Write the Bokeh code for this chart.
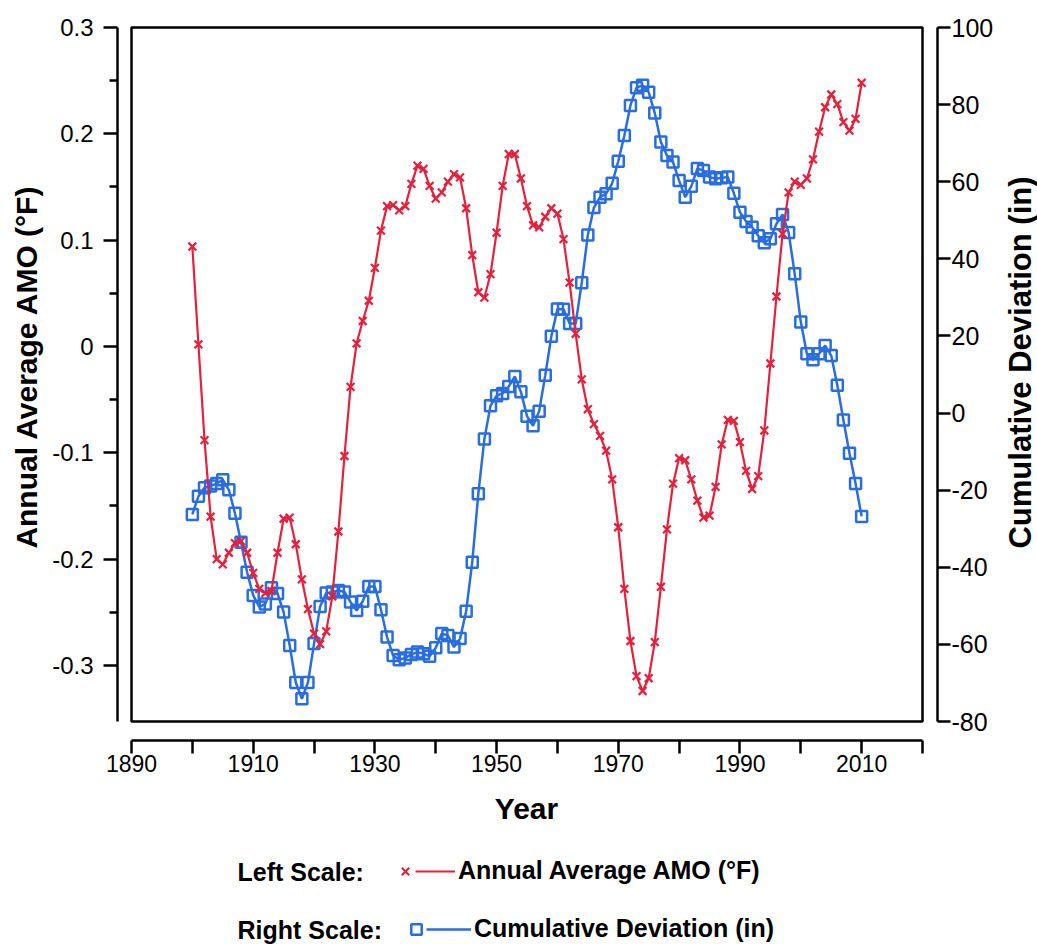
import math
from bokeh.plotting import figure
from bokeh.models import (Range1d, LinearAxis, FixedTicker, BoxAnnotation,
                          Legend, LegendItem, Label)
from bokeh.embed import file_html
from bokeh.resources import INLINE

# ---------------- data ----------------
years = list(range(1900, 2011))

amo = [
    0.094, 0.002, -0.088, -0.160, -0.200, -0.205, -0.194, -0.185, -0.183, -0.194,
    -0.213, -0.228, -0.232, -0.230, -0.194, -0.162, -0.161, -0.186, -0.219, -0.247,
    -0.270, -0.280, -0.268, -0.235, -0.174, -0.103, -0.038, 0.003, 0.024, 0.043,
    0.074, 0.109, 0.132, 0.133, 0.128, 0.132, 0.153, 0.170, 0.167, 0.151,
    0.139, 0.145, 0.155, 0.162, 0.159, 0.130, 0.086, 0.051, 0.046, 0.068,
    0.107, 0.151, 0.181, 0.181, 0.158, 0.132, 0.114, 0.112, 0.122, 0.130,
    0.125, 0.101, 0.060, 0.012, -0.031, -0.059, -0.073, -0.084, -0.098, -0.125,
    -0.170, -0.228, -0.277, -0.310, -0.324, -0.312, -0.278, -0.226, -0.172, -0.129,
    -0.105, -0.107, -0.125, -0.145, -0.161, -0.159, -0.132, -0.092, -0.069, -0.070,
    -0.090, -0.117, -0.134, -0.122, -0.079, -0.016, 0.047, 0.106, 0.145, 0.155,
    0.152, 0.158, 0.176, 0.202, 0.225, 0.237, 0.228, 0.211, 0.203, 0.214,
    0.248,
]

cumdev = [
    -26.3, -21.6, -19.4, -18.9, -18.3, -17.3, -19.9, -26.0, -33.5, -41.3,
    -47.3, -50.3, -49.5, -45.3, -46.8, -51.6, -60.3, -69.9, -74.1, -69.9,
    -59.8, -50.2, -46.7, -46.4, -46.0, -46.4, -49.0, -51.2, -48.8, -45.0,
    -45.0, -51.0, -58.1, -62.9, -64.0, -63.5, -62.6, -62.0, -62.4, -63.1,
    -60.9, -57.2, -57.7, -60.7, -58.5, -51.4, -38.7, -20.9, -6.7, 1.9,
    4.5, 5.1, 6.9, 9.5, 5.5, -0.8, -3.3, 0.5, 9.8, 19.9,
    27.0, 26.9, 23.2, 23.2, 33.8, 46.2, 53.3, 56.0, 56.9, 59.6,
    65.3, 72.0, 79.8, 84.4, 85.0, 83.2, 77.8, 70.3, 66.8, 65.1,
    60.3, 56.0, 58.8, 63.4, 62.9, 61.2, 60.8, 61.0, 61.2, 57.0,
    52.1, 49.7, 48.2, 46.0, 44.2, 45.2, 49.1, 51.5, 46.8, 36.1,
    23.6, 15.4, 13.8, 15.4, 17.5, 14.9, 7.2, -1.8, -10.4, -18.3,
    -26.8,
]

x_ticks = list(range(1890, 2021, 10))
x_tick_labels = ["1890", "", "1910", "", "1930", "", "1950", "", "1970", "",
                 "1990", "", "2010", ""]
left_ticks = [-0.3, -0.2, -0.1, 0.0, 0.1, 0.2, 0.3]
left_tick_labels = ["-0.3", "-0.2", "-0.1", "0", "0.1", "0.2", "0.3"]
left_minor = [-0.25, -0.15, -0.05, 0.05, 0.15, 0.25]
right_ticks = [-80, -60, -40, -20, 0, 20, 40, 60, 80, 100]
right_tick_labels = ["-80", "-60", "-40", "-20", "0", "20", "40", "60", "80", "100"]

x_box = (1890, 2020)
left_box = (-0.3527, 0.3)
right_box = (-80, 100)

RED = "#e5203c"
BLUE = "#2a6de0"
FONT = "Liberation Sans"

# ---------------- geometry (page px) ----------------
W, H = 1037, 944
box_l, box_r, box_t, box_b = 131, 922, 27, 721   # inner plotting box
laxis_x, raxis_x, xaxis_y = 117, 937, 740        # offset axis lines

px_per_x = (box_r - box_l) / (x_box[1] - x_box[0])
py_left = (box_b - box_t) / (left_box[1] - left_box[0])
py_right = (box_b - box_t) / (right_box[1] - right_box[0])

def x_at(px):
    return x_box[0] + (px - box_l) / px_per_x

def yl_at(py):
    return left_box[1] - (py - box_t) / py_left

def yr_at(py):
    return right_box[1] - (py - box_t) / py_right

p = figure(width=W, height=H, output_backend="svg", toolbar_location=None,
           x_range=Range1d(x_at(0), x_at(W)), y_range=Range1d(yl_at(H), yl_at(0)),
           min_border=0)
p.extra_y_ranges = {"right": Range1d(yr_at(H), yr_at(0))}
p.xgrid.visible = False
p.ygrid.visible = False
p.outline_line_color = None
p.background_fill_color = "white"
p.border_fill_color = "white"

def style_axis(ax, tick_size):
    ax.axis_line_width = 2.5
    ax.axis_line_color = "black"
    ax.major_tick_line_width = 2.5
    ax.major_tick_line_color = "black"
    ax.minor_tick_line_width = 2.5
    ax.minor_tick_line_color = "black"
    ax.major_tick_in = 0
    ax.minor_tick_in = 0
    ax.major_label_text_font = FONT
    ax.major_label_text_font_size = tick_size
    ax.major_label_text_color = "black"

# x axis
xa = p.xaxis[0]
xa.ticker = FixedTicker(ticks=x_ticks)
xa.bounds = x_box
xa.fixed_location = yl_at(xaxis_y)
xa.major_label_overrides = dict(zip(x_ticks, x_tick_labels))
style_axis(xa, "23px")
xa.major_tick_out = 13
xa.minor_tick_out = 0
xa.major_label_standoff = 1

# left axis
ya = p.yaxis[0]
ya.ticker = FixedTicker(ticks=left_ticks, minor_ticks=left_minor)
ya.bounds = left_box
ya.fixed_location = x_at(laxis_x)
ya.major_label_overrides = dict(zip(left_ticks, left_tick_labels))
style_axis(ya, "24px")
ya.major_tick_out = 14
ya.minor_tick_out = 8
ya.major_label_standoff = 10

# right axis
ra = LinearAxis(y_range_name="right")
ra.ticker = FixedTicker(ticks=right_ticks)
ra.bounds = right_box
ra.fixed_location = x_at(raxis_x)
ra.major_label_overrides = dict(zip(right_ticks, right_tick_labels))
style_axis(ra, "25px")
ra.major_tick_out = 13
ra.minor_tick_out = 0
ra.major_label_standoff = 1
p.add_layout(ra, "right")

# axis titles
def title(text, cx, cy, angle, size):
    p.add_layout(Label(x=cx, y=H - cy, x_units="screen", y_units="screen", text=text,
                       angle=angle, text_align="center", text_baseline="middle",
                       text_font=FONT, text_font_style="bold", text_font_size=size,
                       text_color="black"))

title("Year", 526, 808, 0, "30px")
title("Annual Average AMO (°F)", 26, 366, math.pi / 2, "30px")
title("Cumulative Deviation (in)", 1020, 362, math.pi / 2, "31px")

# inner box
p.add_layout(BoxAnnotation(left=x_box[0], right=x_box[1], bottom=left_box[0], top=left_box[1],
                           fill_alpha=0, line_color="black", line_alpha=1, line_width=2.5))

# series
b_line = p.line(years, cumdev, y_range_name="right", line_color=BLUE, line_width=2.5)
b_pts = p.scatter(years, cumdev, y_range_name="right", marker="square", size=11,
                  line_color=BLUE, fill_color=None, line_width=2.5)
r_line = p.line(years, amo, line_color=RED, line_width=2.2)
r_pts = p.scatter(years, amo, marker="x", size=11, line_color=RED, line_width=2.2)

# legend rows: marker swatch, then line swatch with its text
def legend_part(renderer, text, loc, gw, gh):
    lg = Legend(items=[LegendItem(label=text, renderers=[renderer])],
                orientation="horizontal", location=loc,
                glyph_width=gw, glyph_height=gh, label_standoff=3,
                label_width=0, label_height=0, padding=0, margin=0, spacing=0,
                background_fill_alpha=0, border_line_color=None,
                label_text_font=FONT, label_text_font_style="bold",
                label_text_font_size="25px", label_text_color="black")
    p.add_layout(lg, "center")

legend_part(r_pts, "", (405 - 13, H - 884), 26, 26)
legend_part(r_line, "Annual Average AMO (°F)", (415, H - 885), 40, 20)
legend_part(b_pts, "", (416 - 13, H - 942), 26, 26)
legend_part(b_line, "Cumulative Deviation (in)", (426, H - 943), 45, 20)

for txt, px, py in [("Left Scale:", 237, 871), ("Right Scale:", 237, 929)]:
    p.add_layout(Label(x=px, y=H - py, x_units="screen", y_units="screen",
                       text=txt, text_font=FONT, text_font_style="bold",
                       text_font_size="25px", text_baseline="middle", text_color="black"))

open("out.html", "w").write(file_html(p, INLINE))
